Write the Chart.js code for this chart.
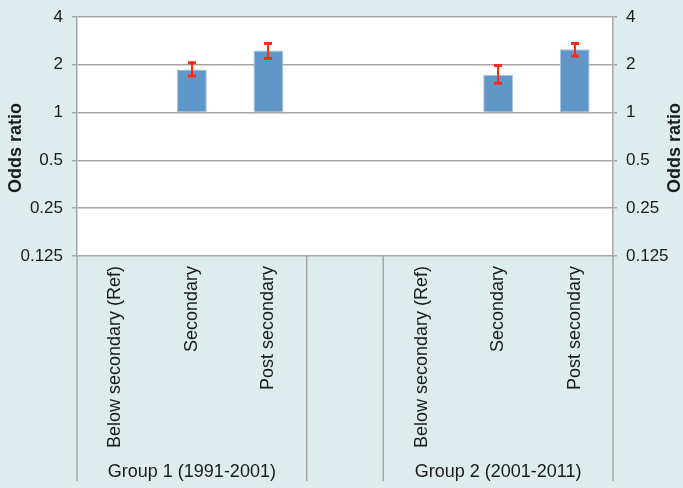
<!DOCTYPE html>
<html>
<head>
<meta charset="utf-8">
<script src="https://cdn.jsdelivr.net/npm/chart.js@4/dist/chart.umd.min.js"></script>
<style>
  html, body { margin: 0; padding: 0; background: #ddeded; }
  #wrap { width: 683px; height: 488px; }
</style>
</head>
<body>
<div id="wrap"><canvas id="chart" width="683" height="488"></canvas></div>
<script>
// Education level within each period; the empty slot separates the two groups
const categories = [
  'Below secondary (Ref)', 'Secondary', 'Post secondary',
  '',
  'Below secondary (Ref)', 'Secondary', 'Post secondary'
];
const groupLabels = ['Group 1 (1991-2001)', '', 'Group 2 (2001-2011)'];
const groupSizes = [3, 1, 3];

// Odds ratios with 95% confidence limits (reference category = 1)
const oddsRatio = [1, 1.87, 2.46, null, 1, 1.73, 2.51];
const ciLower   = [null, 1.70, 2.19, null, null, 1.53, 2.27];
const ciUpper   = [null, 2.06, 2.72, null, null, 1.98, 2.72];

const tickValues = [0.125, 0.25, 0.5, 1, 2, 4];
const axisTitle = 'Odds ratio';

const FONT = '"Liberation Sans", Arial, Helvetica, sans-serif';
const TEXT = '#1a1a1a';
const LINE = '#a6a6a6';

// bars grow from the reference value 1 on the log axis
const barData = oddsRatio.map(v => v == null ? null : [1, v]);

const fixedTicks = scale => { scale.ticks = tickValues.map(v => ({ value: v })); };

const decorPlugin = {
  id: 'decor',
  beforeDraw(chart) {
    const { ctx, chartArea: a } = chart;
    ctx.save();
    ctx.fillStyle = '#ddeded';
    ctx.fillRect(0, 0, chart.width, chart.height);
    ctx.fillStyle = '#ffffff';
    ctx.fillRect(a.left, a.top, a.right - a.left, a.bottom - a.top);
    ctx.restore();
  },
  afterDatasetsDraw(chart) {
    const { ctx } = chart;
    const x = chart.scales.x, y = chart.scales.y;
    ctx.save();
    ctx.strokeStyle = '#ff2a14';
    ciLower.forEach((lo, i) => {
      const hi = ciUpper[i];
      if (lo == null || hi == null) return;
      const px = Math.round(x.getPixelForTick(i));
      const y1 = y.getPixelForValue(hi), y2 = y.getPixelForValue(lo);
      ctx.lineWidth = 2;
      ctx.beginPath();
      ctx.moveTo(px, y1); ctx.lineTo(px, y2);
      ctx.stroke();
      ctx.lineWidth = 3;
      ctx.beginPath();
      ctx.moveTo(px - 4, y1); ctx.lineTo(px + 4, y1);
      ctx.moveTo(px - 4, y2); ctx.lineTo(px + 4, y2);
      ctx.stroke();
    });
    ctx.restore();
  },
  afterDraw(chart) {
    const { ctx, chartArea: a } = chart;
    const n = categories.length;
    const step = (a.right - a.left) / n;
    const bottom = 481;
    ctx.save();
    // group separators in the label band; outer ones continue the axis lines
    ctx.strokeStyle = LINE;
    ctx.lineWidth = 1.5;
    let idx = 0;
    const bounds = [a.left];
    groupSizes.forEach(s => { idx += s; bounds.push(a.left + idx * step); });
    ctx.beginPath();
    bounds.forEach(b => { ctx.moveTo(b, a.bottom); ctx.lineTo(b, bottom); });
    ctx.stroke();
    // group names
    ctx.fillStyle = TEXT;
    ctx.font = '18px ' + FONT;
    ctx.textAlign = 'center';
    ctx.textBaseline = 'middle';
    groupLabels.forEach((g, k) => {
      if (!g) return;
      ctx.fillText(g, (bounds[k] + bounds[k + 1]) / 2, 472);
    });
    // axis titles, both reading upward
    ctx.font = 'bold 18px ' + FONT;
    [[16, 148], [675, 148]].forEach(([tx, ty]) => {
      ctx.save();
      ctx.translate(tx, ty);
      ctx.rotate(-Math.PI / 2);
      ctx.fillText(axisTitle, 0, 0);
      ctx.restore();
    });
    ctx.restore();
  }
};

const yTicks = pad => ({
  padding: pad,
  color: TEXT,
  font: { family: FONT, size: 17 },
  callback: v => String(v)
});

new Chart(document.getElementById('chart'), {
  type: 'bar',
  data: {
    labels: categories,
    datasets: [{
      data: barData,
      backgroundColor: '#6196c9',
      borderColor: '#a9c6e4',
      borderWidth: 1,
      borderSkipped: false,
      categoryPercentage: 1,
      barPercentage: 0.39
    }]
  },
  options: {
    responsive: false,
    animation: false,
    devicePixelRatio: 1,
    layout: { padding: { top: 17, left: 0, right: 0, bottom: 0 } },
    plugins: { legend: { display: false }, tooltip: { enabled: false } },
    scales: {
      x: {
        type: 'category',
        position: 'bottom',
        grid: { display: false },
        border: { display: false },
        ticks: {
          autoSkip: false,
          minRotation: 90,
          maxRotation: 90,
          padding: 2,
          color: TEXT,
          font: { family: FONT, size: 18 }
        },
        afterFit(s) { s.height = 232; s.paddingLeft = 0; s.paddingRight = 0; }
      },
      y: {
        type: 'logarithmic',
        position: 'left',
        min: 0.125,
        max: 4,
        afterBuildTicks: fixedTicks,
        grid: { color: LINE, lineWidth: 1.5, tickLength: 5 },
        border: { color: LINE, width: 1.5 },
        ticks: yTicks(9),
        afterFit(s) { s.width = 77; s.paddingTop = 0; s.paddingBottom = 0; }
      },
      y2: {
        type: 'logarithmic',
        position: 'right',
        min: 0.125,
        max: 4,
        afterBuildTicks: fixedTicks,
        grid: { color: LINE, lineWidth: 1.5, tickLength: 4, drawOnChartArea: false },
        border: { color: LINE, width: 1.5 },
        ticks: yTicks(9),
        afterFit(s) { s.width = 70; s.paddingTop = 0; s.paddingBottom = 0; }
      }
    }
  },
  plugins: [decorPlugin]
});
</script>
</body>
</html>
